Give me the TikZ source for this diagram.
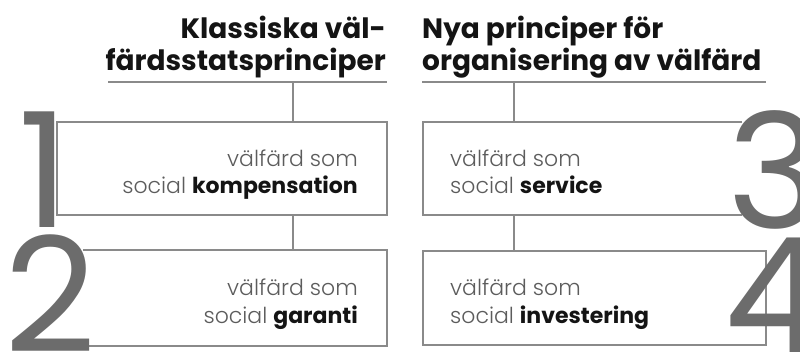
\documentclass[tikz,border=0pt]{standalone}
\usepackage{fontspec}
\setmainfont{Poppins}
\newfontfamily\lightface{Poppins Light}
\definecolor{linegray}{HTML}{8A8A8A}
\definecolor{digitgray}{HTML}{6C6C6C}
\definecolor{textgray}{HTML}{5C5C5C}
\definecolor{inkblack}{HTML}{141414}
\newcommand{\keyword}[1]{\textcolor{inkblack}{\normalfont\bfseries #1}}
\begin{document}
\begin{tikzpicture}[x=1pt,y=-1pt,
  rule/.style={draw=linegray, line width=1.4pt},
  heading/.style={inner sep=0pt, font=\fontsize{28}{32}\selectfont\bfseries, text=inkblack},
  body/.style={inner sep=0pt, font=\fontsize{22}{28}\selectfont\lightface, text=textgray},
  digit/.style={inner sep=0pt, font=\fontsize{160}{160}\selectfont, text=digitgray},
  frame/.style={inner sep=0pt, outer sep=0pt}]
\useasboundingbox (0,0) rectangle (800,351);

% headings
\node[heading, anchor=base east] (hl1) at (386,38) {Klassiska väl-};
\node[heading, anchor=base east] (hl2) at (386,70) {färdsstatsprinciper};
\node[heading, anchor=base west] (hr1) at (422,38) {Nya principer för};
\node[heading, anchor=base west] (hr2) at (422,70) {organisering av välfärd};

% underlines below the headings
\coordinate (ulA) at (108,82);
\coordinate (ulB) at (387,82);
\coordinate (urA) at (422,82);
\coordinate (urB) at (766,82);
\draw[rule] (ulA) -- (ulB);
\draw[rule] (urA) -- (urB);
\coordinate (jl) at (293,82);
\coordinate (jr) at (514,82);

% boxes
\node[frame, minimum width=330pt, minimum height=93pt] (b1) at (222,168.5) {};
\node[frame, minimum width=304pt, minimum height=96pt] (b2) at (235,298) {};
\node[frame, minimum width=319pt, minimum height=93pt] (b3) at (582.5,168.5) {};
\node[frame, minimum width=343pt, minimum height=94pt] (b4) at (594.5,298) {};
\draw[rule] (b1.north west) rectangle (b1.south east);
\draw[rule] (b2.north west) -- (b2.north east) -- (b2.south east) -- (b2.south west);
\draw[rule] (b3.north east) -- (b3.north west) -- (b3.south west) -- (b3.south east);
\draw[rule] (b4.north west) rectangle (b4.south east);

% connectors
\draw[rule] (jl) -- (jl |- b1.north);
\draw[rule] (jl |- b1.south) -- (jl |- b2.north);
\draw[rule] (jr) -- (jr |- b3.north);
\draw[rule] (jr |- b3.south) -- (jr |- b4.north);

% box texts
\node[body, anchor=base east] (t1a) at (358,166) {välfärd som};
\node[body, anchor=base east] (t1b) at (358,193) {social \keyword{kompensation}};
\node[body, anchor=base east] (t2a) at (358,295) {välfärd som};
\node[body, anchor=base east] (t2b) at (358,323) {social \keyword{garanti}};
\node[body, anchor=base west] (t3a) at (450,166) {välfärd som};
\node[body, anchor=base west] (t3b) at (450,193) {social \keyword{service}};
\node[body, anchor=base west] (t4a) at (450,295) {välfärd som};
\node[body, anchor=base west] (t4b) at (450,323) {social \keyword{investering}};

% large numerals
\node[digit, anchor=base east] (n1) at (70,227) {1};
\node[digit, anchor=base west] (n2) at (4,352) {2};
\node[digit, anchor=base west] (n3) at (727,228) {3};
\node[digit, anchor=base west] (n4) at (724,352) {4};
\end{tikzpicture}
\end{document}
